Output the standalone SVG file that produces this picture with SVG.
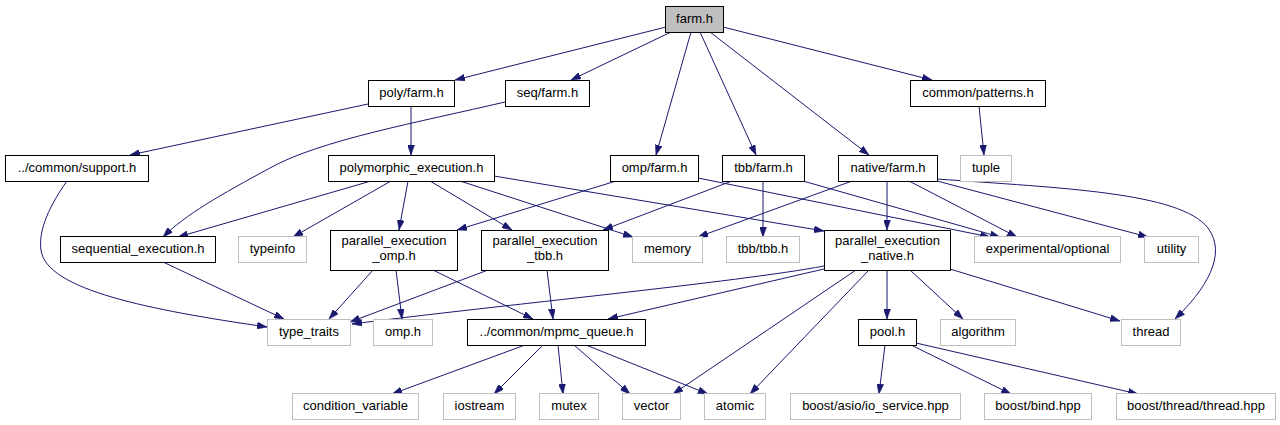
<svg xmlns="http://www.w3.org/2000/svg" width="1280" height="425" viewBox="0 0 1280 425">
<style>
text{font-family:"Liberation Sans",Arial,Helvetica,sans-serif;font-size:13px;fill:#000;text-anchor:middle}
.n rect{fill:#fff;stroke:#000;stroke-width:1}
.g rect{fill:#fff;stroke:#bfbfbf;stroke-width:1}
.r rect{fill:#bfbfbf;stroke:#000;stroke-width:1}
#edges path{fill:none;stroke:#191970;stroke-width:1;marker-end:url(#ah)}
</style>
<defs>
<marker id="ah" viewBox="0 0 10 7" refX="10" refY="3.5" markerWidth="10" markerHeight="7" markerUnits="userSpaceOnUse" orient="auto">
<path d="M0,0 L10,3.5 L0,7 z" fill="#191970" stroke="#191970" stroke-width="0.5"/>
</marker>
</defs>
<rect width="1280" height="425" fill="#fff"/>
<g id="edges">
<path d="M666,27 L455,80"/>
<path d="M671,32 L571,80"/>
<path d="M691,32 L656,155"/>
<path d="M700,32 L756,155"/>
<path d="M710,32 L869,155"/>
<path d="M723,27 L932,80"/>
<path d="M979,106 L984,155"/>
<path d="M411,106 L411,155"/>
<path d="M368,104 L130,155"/>
<path d="M505,102 C420,122 320,140 270,168 C220,195 185,215 163,237"/>
<path d="M67,181 C50,205 38,230 41,250 C46,290 150,310 267,327"/>
<path d="M371,181 L178,237"/>
<path d="M391,181 L293,237"/>
<path d="M408,181 L399,230"/>
<path d="M430,181 L512,230"/>
<path d="M460,181 L633,237"/>
<path d="M494,176 L824,231"/>
<path d="M616,181 L457,230"/>
<path d="M698,178 L990,237"/>
<path d="M732,181 L603,230"/>
<path d="M763,181 L763,237"/>
<path d="M803,181 L1000,237"/>
<path d="M852,181 L698,237"/>
<path d="M887,181 L887,230"/>
<path d="M909,181 L1017,237"/>
<path d="M937,181 L1148,237"/>
<path d="M937,179 C1060,188 1180,192 1208,228 C1228,255 1205,290 1175,319"/>
<path d="M163,262 L284,319"/>
<path d="M373,270 L329,319"/>
<path d="M396,270 L402,319"/>
<path d="M433,270 L533,319"/>
<path d="M488,270 L350,322"/>
<path d="M547,270 L553,319"/>
<path d="M824,266 C740,282 500,305 352,324"/>
<path d="M824,269 L608,319"/>
<path d="M856,270 L673,394"/>
<path d="M869,270 L750,394"/>
<path d="M887,270 L887,319"/>
<path d="M910,270 L963,319"/>
<path d="M950,269 L1120,321"/>
<path d="M525,345 L392,394"/>
<path d="M543,345 L494,394"/>
<path d="M558,345 L563,394"/>
<path d="M574,345 L630,394"/>
<path d="M586,345 L708,394"/>
<path d="M885,345 L879,394"/>
<path d="M911,345 L1011,394"/>
<path d="M916,343 L1138,394"/>
</g>
<g id="node-farm" class="r"><rect x="665.5" y="6.5" width="58" height="26"/><text x="694.5" y="23">farm.h</text></g>
<g id="node-polyfarm" class="n"><rect x="368.5" y="80.5" width="86" height="26"/><text x="411.5" y="97">poly/farm.h</text></g>
<g id="node-seqfarm" class="n"><rect x="505.5" y="80.5" width="84" height="26"/><text x="547.5" y="97">seq/farm.h</text></g>
<g id="node-patterns" class="n"><rect x="910.5" y="80.5" width="135" height="26"/><text x="978" y="97">common/patterns.h</text></g>
<g id="node-support" class="n"><rect x="5.5" y="155.5" width="143" height="26"/><text x="77" y="172">../common/support.h</text></g>
<g id="node-polymorphic" class="n"><rect x="328.5" y="155.5" width="166" height="26"/><text x="411.5" y="172">polymorphic_execution.h</text></g>
<g id="node-ompfarm" class="n"><rect x="610.5" y="155.5" width="88" height="26"/><text x="654.5" y="172">omp/farm.h</text></g>
<g id="node-tbbfarm" class="n"><rect x="722.5" y="155.5" width="82" height="26"/><text x="763.5" y="172">tbb/farm.h</text></g>
<g id="node-nativefarm" class="n"><rect x="838.5" y="155.5" width="99" height="26"/><text x="888" y="172">native/farm.h</text></g>
<g id="node-tuple" class="g"><rect x="960.5" y="155.5" width="51" height="26"/><text x="986" y="172">tuple</text></g>
<g id="node-sequential" class="n"><rect x="60.5" y="236.5" width="155" height="26"/><text x="138" y="253">sequential_execution.h</text></g>
<g id="node-typeinfo" class="g"><rect x="238.5" y="236.5" width="68" height="26"/><text x="272.5" y="253">typeinfo</text></g>
<g id="node-peomp" class="n"><rect x="330.5" y="230.5" width="127" height="40"/><text x="394" y="245">parallel_execution</text><text x="394" y="260">_omp.h</text></g>
<g id="node-petbb" class="n"><rect x="481.5" y="230.5" width="127" height="40"/><text x="545" y="245">parallel_execution</text><text x="545" y="260">_tbb.h</text></g>
<g id="node-memory" class="g"><rect x="632.5" y="236.5" width="70" height="26"/><text x="667.5" y="253">memory</text></g>
<g id="node-tbbtbb" class="g"><rect x="726.5" y="236.5" width="73" height="26"/><text x="763" y="253">tbb/tbb.h</text></g>
<g id="node-penative" class="n"><rect x="824.5" y="230.5" width="126" height="40"/><text x="887.5" y="245">parallel_execution</text><text x="887.5" y="260">_native.h</text></g>
<g id="node-optional" class="g"><rect x="974.5" y="236.5" width="146" height="26"/><text x="1047.5" y="253">experimental/optional</text></g>
<g id="node-utility" class="g"><rect x="1144.5" y="236.5" width="54" height="26"/><text x="1171.5" y="253">utility</text></g>
<g id="node-typetraits" class="g"><rect x="267.5" y="319.5" width="83" height="26"/><text x="309" y="336">type_traits</text></g>
<g id="node-omph" class="g"><rect x="373.5" y="319.5" width="59" height="26"/><text x="403" y="336">omp.h</text></g>
<g id="node-mpmc" class="n"><rect x="467.5" y="319.5" width="178" height="26"/><text x="556.5" y="336">../common/mpmc_queue.h</text></g>
<g id="node-pool" class="n"><rect x="858.5" y="319.5" width="58" height="26"/><text x="887.5" y="336">pool.h</text></g>
<g id="node-algorithm" class="g"><rect x="940.5" y="319.5" width="75" height="26"/><text x="978" y="336">algorithm</text></g>
<g id="node-thread" class="g"><rect x="1121.5" y="319.5" width="59" height="26"/><text x="1151" y="336">thread</text></g>
<g id="node-condvar" class="g"><rect x="292.5" y="393.5" width="126" height="26"/><text x="355.5" y="410">condition_variable</text></g>
<g id="node-iostream" class="g"><rect x="443.5" y="393.5" width="72" height="26"/><text x="479.5" y="410">iostream</text></g>
<g id="node-mutex" class="g"><rect x="539.5" y="393.5" width="59" height="26"/><text x="569" y="410">mutex</text></g>
<g id="node-vector" class="g"><rect x="622.5" y="393.5" width="58" height="26"/><text x="651.5" y="410">vector</text></g>
<g id="node-atomic" class="g"><rect x="704.5" y="393.5" width="61" height="26"/><text x="735" y="410">atomic</text></g>
<g id="node-ioservice" class="g"><rect x="790.5" y="393.5" width="170" height="26"/><text x="875.5" y="410">boost/asio/io_service.hpp</text></g>
<g id="node-bind" class="g"><rect x="984.5" y="393.5" width="107" height="26"/><text x="1038" y="410">boost/bind.hpp</text></g>
<g id="node-boostthread" class="g"><rect x="1116.5" y="393.5" width="159" height="26"/><text x="1196" y="410">boost/thread/thread.hpp</text></g>
</svg>
